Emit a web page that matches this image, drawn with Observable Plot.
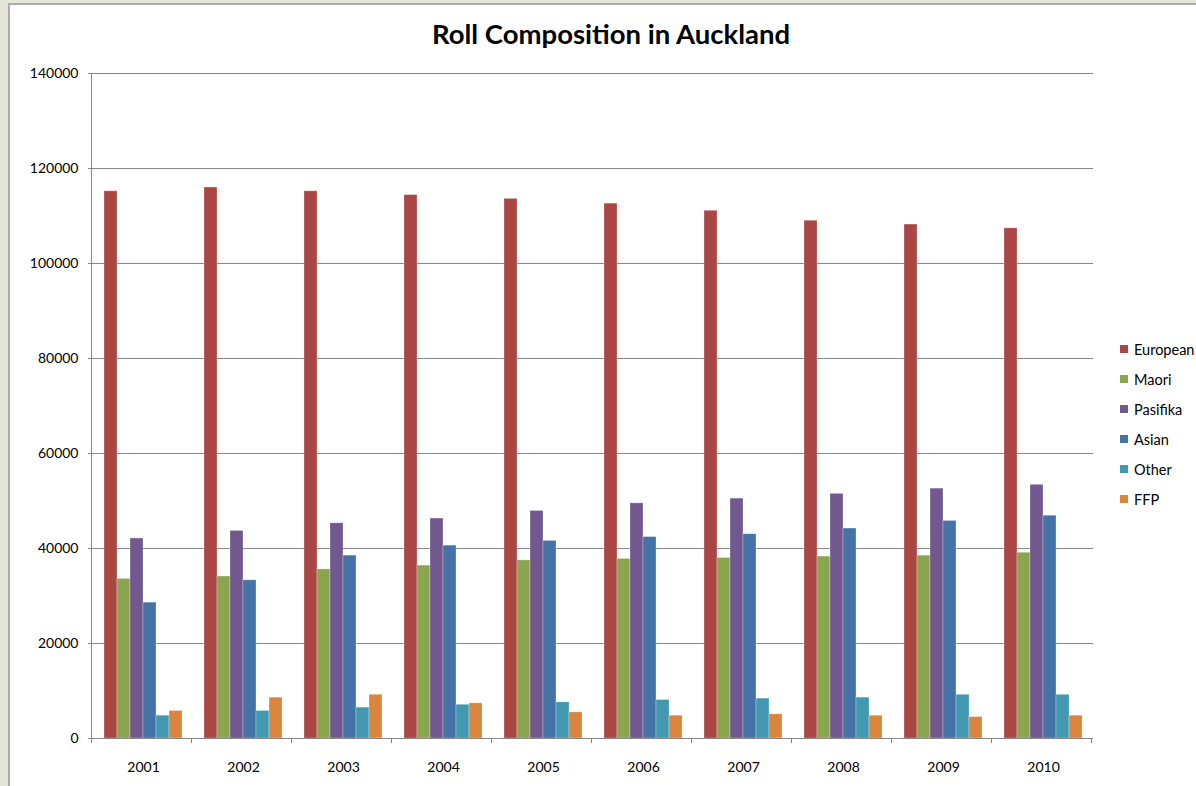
<!DOCTYPE html>
<html>
<head>
<meta charset="utf-8">
<script src="https://cdn.jsdelivr.net/npm/d3@7"></script>
<script src="https://cdn.jsdelivr.net/npm/@observablehq/plot@0.6"></script>
<style>
  html, body { margin: 0; padding: 0; }
  body { width: 1196px; height: 786px; overflow: hidden; background: #e5e6d9; position: relative; font-family: Lato, "Open Sans", sans-serif; }
  #sheet { position: absolute; left: 8px; top: 3px; width: 1300px; height: 900px; background: #fff; border-left: 2px solid #ababab; border-top: 2px solid #ababab; }
  #chart { position: absolute; left: 0; top: 0; }
  #title { position: absolute; left: 0; width: 1222px; top: 16px; line-height: 36px; text-align: center; font-size: 27.5px; font-weight: 700; color: #000; letter-spacing: 0px; }
  #legend { position: absolute; left: 1120px; top: 334px; }
  .item { display: flex; align-items: center; height: 30px; font-size: 14.5px; color: #000; white-space: nowrap; }
  .sw { width: 8px; height: 8px; margin-right: 6px; }
</style>
</head>
<body>
<div id="sheet"></div>
<div id="chart"></div>
<div id="title">Roll Composition in Auckland</div>
<div id="legend"></div>
<script>
const years = ["2001","2002","2003","2004","2005","2006","2007","2008","2009","2010"];
const seriesNames = ["European","Maori","Pasifika","Asian","Other","FFP"];
const seriesColors = ["#aa4744","#89a54e","#71588f","#4572a7","#4198af","#db843d"];
const european = [115200,116000,115200,114400,113600,112600,111100,109000,108200,107400];
const maori    = [33600,34100,35600,36400,37500,37800,38000,38300,38500,39100];
const pasifika = [42100,43700,45300,46300,47900,49500,50500,51500,52600,53400];
const asian    = [28600,33300,38500,40600,41600,42400,43000,44200,45800,46900];
const other    = [4800,5800,6500,7100,7600,8100,8400,8600,9200,9200];
const ffp      = [5800,8600,9200,7400,5500,4800,5100,4800,4500,4800];
const yTicks = [0,20000,40000,60000,80000,100000,120000,140000];

const seriesValues = [european, maori, pasifika, asian, other, ffp];
const data = years.flatMap((yr, i) => seriesNames.map((s, j) => ({year: yr, series: s, value: seriesValues[j][i]})));

const gridColor = "#878787";
const plot = Plot.plot({
  width: 1196, height: 786,
  marginLeft: 91, marginRight: 102, marginTop: 73, marginBottom: 48,
  style: {background: "transparent", fontFamily: "Lato, 'Open Sans', sans-serif", fontSize: "14px", color: "#000", overflow: "visible"},
  fx: {domain: years, paddingInner: 0, paddingOuter: 0, label: null},
  x: {domain: seriesNames, paddingInner: 0, paddingOuter: 0.75, axis: null},
  y: {domain: [0, 140000], label: null},
  color: {domain: seriesNames, range: seriesColors},
  marks: [
    Plot.gridY(yTicks, {stroke: gridColor, strokeOpacity: 1}),
    Plot.axisY(yTicks, {tickSize: 5, tickPadding: 10, tickFormat: d3.format("d"), stroke: gridColor, label: null, fill: "#000"}),
    Plot.axisFx({anchor: "bottom", tickSize: 0, tickPadding: 24, label: null, fill: "#000"}),
    Plot.barY(data, {fx: "year", x: "series", y: "value", fill: "series", inset: 0, stroke: "#fff", strokeOpacity: 0.35, strokeWidth: 0.8}),
    Plot.ruleY([0], {stroke: gridColor})
  ]
});
document.getElementById("chart").appendChild(plot);

// axis line and category boundary ticks, derived from the plot's own scales
const fx = plot.scale("fx");
const ys = plot.scale("y");
const svg = d3.select(plot);
const y0 = ys.apply(0), yTop = ys.apply(140000);
const g = svg.append("g").attr("stroke", gridColor).attr("stroke-width", 1);
g.append("line").attr("x1", fx.range[0] + 0.5).attr("x2", fx.range[0] + 0.5).attr("y1", yTop).attr("y2", y0);
for (let i = 0; i <= years.length; i++) {
  const x = Math.round(fx.range[0] + i * fx.step) + 0.5;
  g.append("line").attr("x1", x).attr("x2", x).attr("y1", y0).attr("y2", y0 + 5);
}

// legend
const legend = d3.select("#legend");
seriesNames.forEach((s, i) => {
  const it = legend.append("div").attr("class", "item");
  it.append("div").attr("class", "sw").style("background", seriesColors[i]);
  it.append("span").text(s);
});
</script>
</body>
</html>
